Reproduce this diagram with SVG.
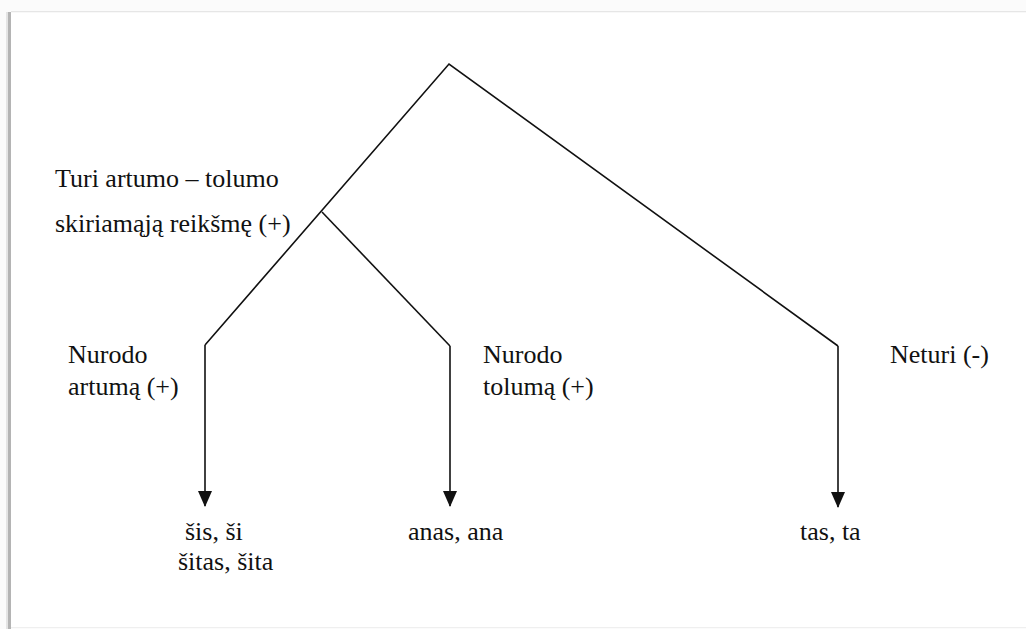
<svg xmlns="http://www.w3.org/2000/svg" width="1026" height="629" viewBox="0 0 1026 629">
  <defs>
    <style>
      .edge { fill: none; stroke: #111; stroke-width: 1.6; stroke-linejoin: miter; }
    </style>
    <marker id="arrow" viewBox="0 0 16 14" refX="15" refY="7" markerWidth="16" markerHeight="14" markerUnits="userSpaceOnUse" orient="auto">
      <path d="M0,0 L16,7 L0,14 Z" fill="#111"/>
    </marker>
  </defs>

  <!-- page sheet with a soft left edge -->
  <rect x="0" y="0" width="1026" height="629" fill="#fbfbfb"/>
  <rect x="6" y="12" width="2" height="617" fill="#e4e4e4"/>
  <rect x="8" y="12" width="3" height="617" fill="#b4b4b4"/>
  <rect x="11" y="11" width="1015" height="1.5" fill="#e6e6e6"/>
  <rect x="11" y="12.5" width="1015" height="614.5" fill="#ffffff"/>
  <rect x="11" y="627" width="1015" height="1" fill="#efefef"/>

  <!-- connectors -->
  <g id="connectors">
    <polyline class="edge" points="205,345 449,64 838,346"/>
    <polyline class="edge" points="322,212 450,346"/>
    <line class="edge" x1="205" y1="345" x2="205" y2="506" marker-end="url(#arrow)"/>
    <line class="edge" x1="450" y1="346" x2="450" y2="506" marker-end="url(#arrow)"/>
    <line class="edge" x1="838" y1="346" x2="838" y2="507" marker-end="url(#arrow)"/>
  </g>

  <g id="node-root">
    <text x="55" y="187" font-family="Liberation Serif" font-size="26" fill="#111">Turi artumo – tolumo</text>
    <text x="55" y="232" font-family="Liberation Serif" font-size="26" fill="#111">skiriamąją reikšmę (+)</text>
  </g>

  <g id="node-near">
    <text x="68" y="363" font-family="Liberation Serif" font-size="26" fill="#111">Nurodo</text>
    <text x="68" y="395" font-family="Liberation Serif" font-size="26" fill="#111">artumą (+)</text>
  </g>

  <g id="node-far">
    <text x="483" y="363" font-family="Liberation Serif" font-size="26" fill="#111">Nurodo</text>
    <text x="483" y="395" font-family="Liberation Serif" font-size="26" fill="#111">tolumą (+)</text>
  </g>

  <g id="node-none">
    <text x="890" y="363" font-family="Liberation Serif" font-size="26" fill="#111">Neturi (-)</text>
  </g>

  <g id="leaf-near">
    <text x="185" y="540" font-family="Liberation Serif" font-size="26" fill="#111">šis, ši</text>
    <text x="178" y="570" font-family="Liberation Serif" font-size="26" fill="#111">šitas, šita</text>
  </g>

  <g id="leaf-far">
    <text x="408" y="540" font-family="Liberation Serif" font-size="26" fill="#111">anas, ana</text>
  </g>

  <g id="leaf-none">
    <text x="800" y="540" font-family="Liberation Serif" font-size="26" fill="#111">tas, ta</text>
  </g>
</svg>
